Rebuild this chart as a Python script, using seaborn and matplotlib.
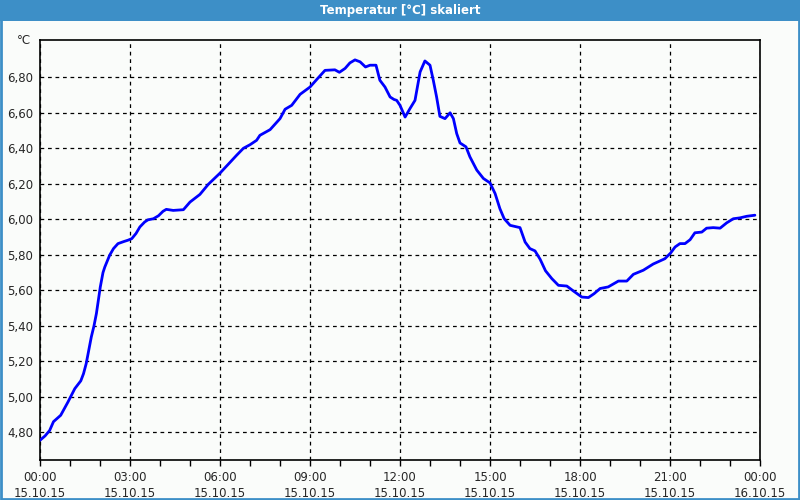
import matplotlib
matplotlib.use("Agg")
import matplotlib.pyplot as plt
from matplotlib.patches import Rectangle
from matplotlib.ticker import MultipleLocator, FixedLocator
import seaborn as sns
import pandas as pd

# ---- data (hours since 15.10.15 00:00, temperature in °C) ----
hours = [0.00, 0.17, 0.32, 0.45, 0.55, 0.69, 0.93, 1.16, 1.36, 1.45, 1.54, 1.71, 1.80, 1.88,
         2.01, 2.10, 2.16, 2.32, 2.45, 2.60, 2.80, 2.93, 3.06, 3.20, 3.33, 3.49, 3.60, 3.78,
         3.95, 4.10, 4.21, 4.44, 4.78, 5.00, 5.33, 5.61, 6.00, 6.33, 6.55, 6.78, 7.00, 7.22,
         7.33, 7.67, 8.00, 8.17, 8.39, 8.67, 9.00, 9.28, 9.50, 9.83, 9.98, 10.17, 10.33, 10.50,
         10.67, 10.85, 11.00, 11.20, 11.33, 11.50, 11.67, 11.80, 11.89, 12.00, 12.17, 12.33,
         12.50, 12.67, 12.83, 13.00, 13.11, 13.22, 13.33, 13.50, 13.67, 13.78, 13.89, 14.00,
         14.20, 14.33, 14.56, 14.78, 15.00, 15.17, 15.33, 15.47, 15.67, 16.00, 16.17, 16.33,
         16.50, 16.67, 16.85, 17.06, 17.28, 17.56, 17.78, 18.06, 18.28, 18.47, 18.67, 18.94,
         19.28, 19.56, 19.78, 20.11, 20.44, 20.83, 21.02, 21.17, 21.33, 21.50, 21.67, 21.83,
         22.06, 22.22, 22.44, 22.67, 22.89, 23.11, 23.33, 23.56, 23.83]
temps = [4.755, 4.78, 4.81, 4.86, 4.875, 4.896, 4.97, 5.046, 5.09, 5.13, 5.187, 5.337, 5.40, 5.469,
         5.619, 5.70, 5.731, 5.797, 5.835, 5.863, 5.875, 5.882, 5.891, 5.92, 5.957, 5.985, 5.997, 6.003,
         6.02, 6.045, 6.056, 6.05, 6.054, 6.097, 6.14, 6.197, 6.26, 6.32, 6.36, 6.40, 6.42, 6.445,
         6.473, 6.505, 6.567, 6.62, 6.642, 6.704, 6.745, 6.798, 6.839, 6.842, 6.828, 6.85, 6.881, 6.898,
         6.887, 6.858, 6.868, 6.868, 6.783, 6.745, 6.689, 6.675, 6.67, 6.642, 6.576, 6.623,
         6.67, 6.83, 6.892, 6.868, 6.783, 6.689, 6.58, 6.567, 6.60, 6.567, 6.483, 6.43,
         6.408, 6.352, 6.277, 6.23, 6.205, 6.145, 6.06, 6.004, 5.966, 5.953, 5.872, 5.835,
         5.822, 5.775, 5.71, 5.666, 5.628, 5.624, 5.596, 5.562, 5.559, 5.581, 5.61, 5.619,
         5.652, 5.652, 5.69, 5.713, 5.748, 5.778, 5.81, 5.844, 5.863, 5.863, 5.885, 5.924,
         5.928, 5.95, 5.953, 5.95, 5.98, 6.003, 6.008, 6.017, 6.023]

x_tick_hours = [0, 3, 6, 9, 12, 15, 18, 21, 24]
x_tick_labels = ["00:00\n15.10.15", "03:00\n15.10.15", "06:00\n15.10.15", "09:00\n15.10.15",
                 "12:00\n15.10.15", "15:00\n15.10.15", "18:00\n15.10.15", "21:00\n15.10.15",
                 "00:00\n16.10.15"]
y_ticks = [4.80, 5.00, 5.20, 5.40, 5.60, 5.80, 6.00, 6.20, 6.40, 6.60, 6.80]
title = "Temperatur [°C] skaliert"
unit = "°C"

df = pd.DataFrame({"hours": hours, "temp": temps})

sns.set_style("white")
plt.rcParams["font.family"] = ["DejaVu Sans"]

bg = "#fafcfa"
blue_bar = "#3d8fc7"

fig = plt.figure(figsize=(8, 5), dpi=100, facecolor=bg)
ax = fig.add_axes([0.05, 0.08, 0.90, 0.84])
ax.set_facecolor(bg)

sns.lineplot(data=df, x="hours", y="temp", ax=ax, color="#0000ff", linewidth=2, zorder=3)

ax.set_xlim(0, 24)
ax.set_ylim(4.644, 7.010)
ax.xaxis.set_major_locator(FixedLocator(x_tick_hours))
ax.xaxis.set_minor_locator(MultipleLocator(1))
ax.set_xticks(x_tick_hours)
ax.set_xticklabels(x_tick_labels, linespacing=1.25)
ax.set_yticks(y_ticks)
ax.set_yticklabels([f"{v:.2f}".replace(".", ",") for v in y_ticks])
ax.set_xlabel("")
ax.set_ylabel("")

ax.grid(True, which="major", color="black", linestyle=(0, (3, 3)), linewidth=0.9)
for s in ax.spines.values():
    s.set_visible(True)
    s.set_color("black")
    s.set_linewidth(1.2)

ax.tick_params(axis="x", which="both", direction="out", length=4, width=1, color="black",
               labelsize=8.5, pad=4, bottom=True)
ax.tick_params(axis="y", which="both", length=0, labelsize=8.5, pad=5)

ax.text(-0.012, 1.0, unit, transform=ax.transAxes, ha="right", va="center", fontsize=8.5)

# title bar and frame
fig.patches.append(Rectangle((0, 0.958), 1, 0.042, transform=fig.transFigure,
                             facecolor=blue_bar, edgecolor="none", zorder=0))
fig.patches.append(Rectangle((0.001, 0.002), 0.998, 0.996, transform=fig.transFigure,
                             facecolor="none", edgecolor=blue_bar, linewidth=2, zorder=5))
fig.text(0.5, 0.979, title, ha="center", va="center", color="white",
         fontsize=8.5, fontweight="bold")

fig.savefig("out.png", dpi=100, facecolor=bg)
